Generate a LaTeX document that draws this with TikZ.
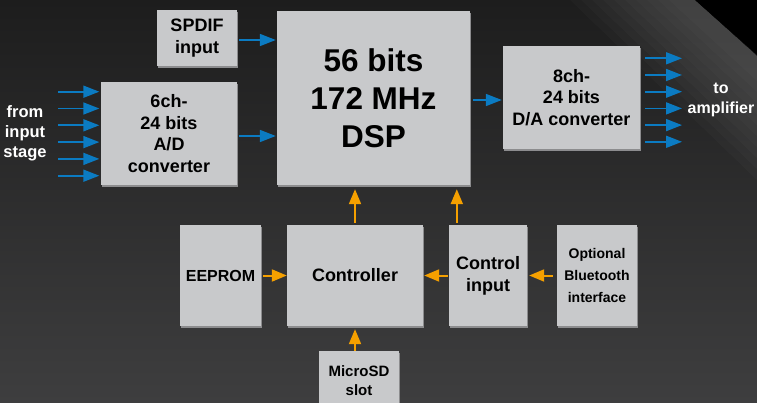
\documentclass[tikz,border=0pt]{standalone}
\usepackage{fontspec}
\setmainfont{Liberation Sans}
\usetikzlibrary{arrows.meta,shadows}
\definecolor{boxgray}{HTML}{C8C9CB}
\definecolor{boxedge}{HTML}{8C8C8E}
\definecolor{sigblue}{HTML}{0B7BC2}
\definecolor{ctlorange}{HTML}{F5A000}
\definecolor{bgtop}{HTML}{1D1D1D}
\definecolor{bgbottom}{HTML}{3E3E3F}

\begin{document}
\begin{tikzpicture}[x=1pt,y=-1pt,
  blk/.style={fill=boxgray,inner sep=0pt,align=center,font=\bfseries\fontsize{18}{21.5}\selectfont,
    drop shadow={shadow xshift=1pt,shadow yshift=-2pt,fill=boxedge,opacity=1}},
  sig/.style={sigblue,line width=1.7pt,-{Triangle[length=16pt,width=12pt]}},
  ctl/.style={ctlorange,line width=2pt,-{Triangle[length=15pt,width=12pt]}},
  lbl/.style={white,align=center,font=\bfseries\fontsize{16.5}{20}\selectfont}]
\useasboundingbox (0,0) rectangle (757,403);
\shade[top color=bgtop,bottom color=bgbottom] (0,0) rectangle (757,403);
\foreach \k in {0,...,9}
  \fill[white,opacity=.02] (570+\k*11,0) -- (695,0) -- (757,56) -- (757,180-\k*11) -- cycle;
\fill[black] (695,0) -- (757,0) -- (757,55) -- cycle;

\node[blk,minimum width=80pt,minimum height=56pt] (spdif) at (197,38) {SPDIF\\input};
\node[blk,minimum width=136pt,minimum height=103pt] (adc) at (169,133.5) {6ch-\\24 bits\\A/D\\converter};
\node[blk,minimum width=193pt,minimum height=174pt,font=\bfseries\fontsize{31.5}{38}\selectfont] (dsp) at (373.5,98) {56 bits\\172 MHz\\DSP};
\node[blk,minimum width=137pt,minimum height=103pt] (dac) at (571.5,97.5) {8ch-\\24 bits\\D/A converter};
\node[blk,minimum width=81pt,minimum height=101pt,font=\bfseries\fontsize{16}{20}\selectfont] (eeprom) at (220.5,275.5) {EEPROM};
\node[blk,minimum width=136pt,minimum height=101pt] (ctrl) at (355,275.5) {Controller};
\node[blk,minimum width=78pt,minimum height=101pt,font=\bfseries\fontsize{18}{22}\selectfont] (cin) at (488,275.5) {Control\\input};
\node[blk,minimum width=80pt,minimum height=101pt,font=\bfseries\fontsize{14}{22}\selectfont] (bt) at (597,275.5) {Optional\\Bluetooth\\interface};
\node[blk,minimum width=80pt,minimum height=60pt,font=\bfseries\fontsize{15}{19}\selectfont] (sd) at (359,381) {MicroSD\\slot};

\node[lbl] (src) at (25,133) {from\\input\\stage};
\node[lbl,font=\bfseries\fontsize{16}{20}\selectfont] (amp) at (721,100) {to\\amplifier};

\foreach \i in {0,...,5} {
  \coordinate (in\i) at (58,91.7+16.8*\i);
  \draw[sig,shorten >=1.5pt] (in\i) -- (in\i -| adc.west);
  \coordinate (out\i) at (682,58.3+16.7*\i);
  \draw[sig,shorten <=5pt] (out\i -| dac.east) -- (out\i);
}
\draw[sig,shorten <=2pt,shorten >=1pt] ([yshift=-2pt]spdif.east) -- ([yshift=-2pt]spdif.east -| dsp.west);
\draw[sig,shorten <=2pt,shorten >=1pt] ([yshift=-2.5pt]adc.east) -- ([yshift=-2.5pt]adc.east -| dsp.west);
\draw[sig,shorten <=3pt,shorten >=1pt] ([yshift=-2.5pt]dac.west -| dsp.east) -- ([yshift=-2.5pt]dac.west);

\draw[ctl,shorten <=2pt,shorten >=4pt] (ctrl.north) -- (ctrl.north |- dsp.south);
\draw[ctl,shorten <=2pt,shorten >=4pt] ([xshift=8pt]cin.north west) -- ([xshift=8pt]cin.north west |- dsp.south);
\draw[ctl,shorten <=2pt] (eeprom.east) -- (ctrl.west);
\draw[ctl,shorten <=1pt,shorten >=1pt] (cin.west) -- (ctrl.east);
\draw[ctl,shorten <=4pt,shorten >=2pt] (bt.west) -- (cin.east);
\draw[ctl,shorten >=3pt] (ctrl.south |- sd.north) -- (ctrl.south);
\end{tikzpicture}
\end{document}
